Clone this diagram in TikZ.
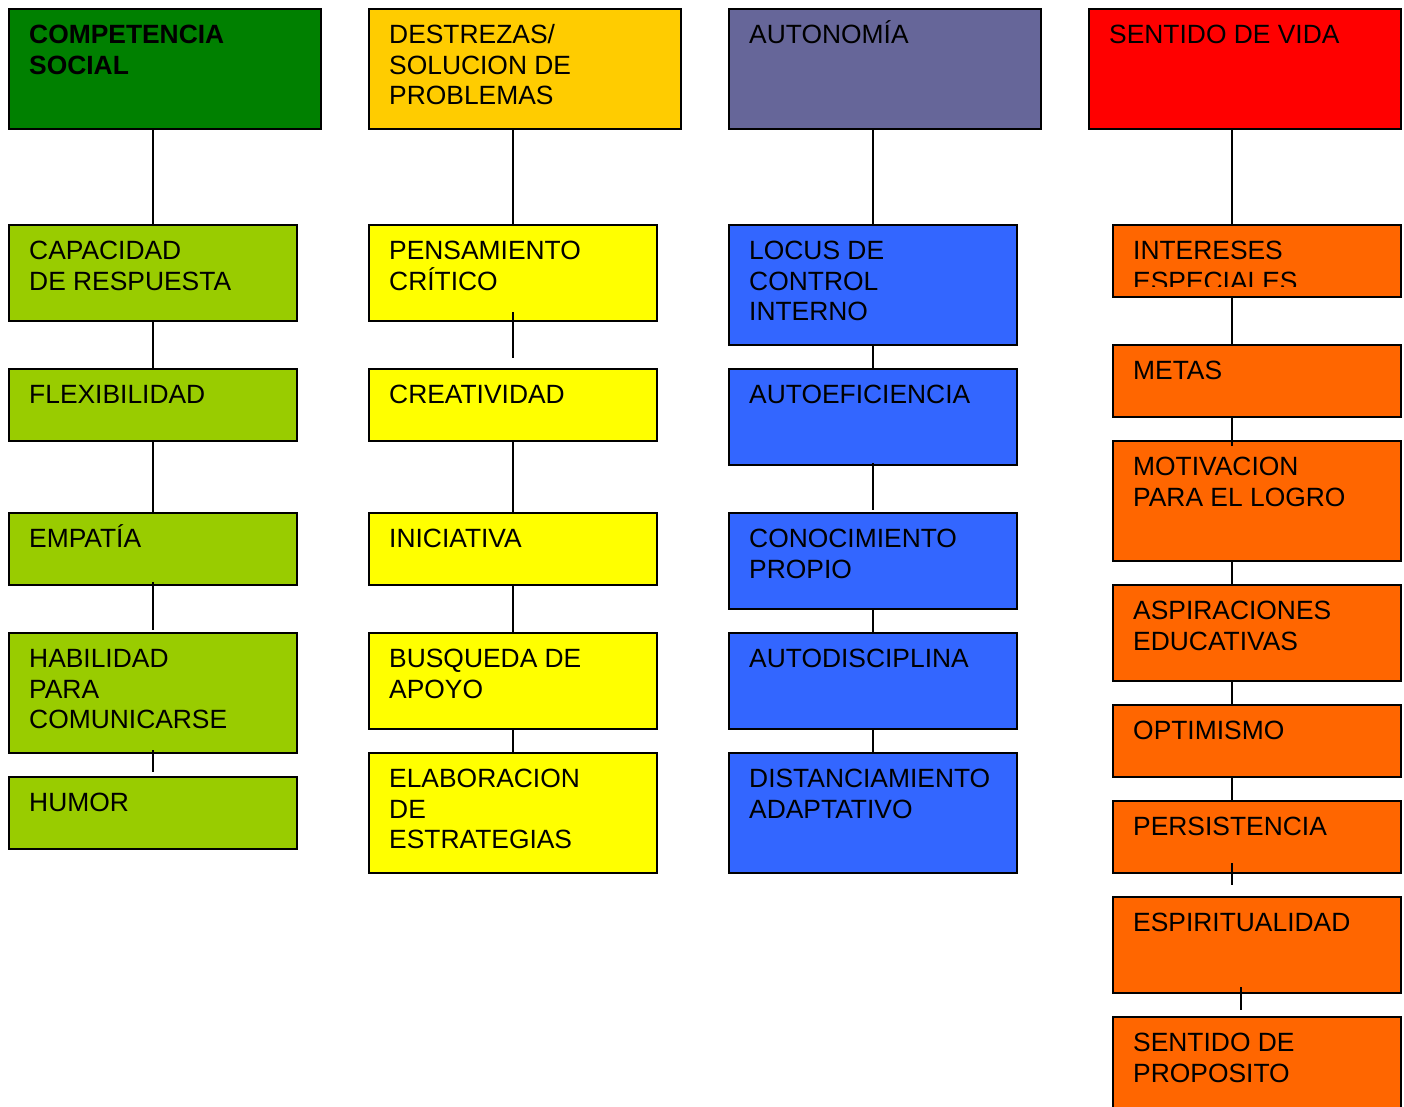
\documentclass[tikz,border=0pt]{standalone}
\usepackage{fontspec}
\setmainfont{Liberation Sans}
\definecolor{cgreen}{RGB}{0,128,0}
\definecolor{clime}{RGB}{153,204,0}
\definecolor{cgold}{RGB}{255,204,0}
\definecolor{cyel}{RGB}{255,255,0}
\definecolor{cpurp}{RGB}{102,102,153}
\definecolor{cblue}{RGB}{51,102,255}
\definecolor{cred}{RGB}{255,0,0}
\definecolor{corange}{RGB}{255,102,0}
\tikzset{
  box/.style={draw=black, line width=2pt, rectangle, inner sep=0pt, anchor=north west},
  txt/.style={inner sep=0pt, anchor=north west, align=left, font=\fontsize{26.4}{30.5}\selectfont},
  conn/.style={draw=black, line width=2pt}
}
\newcommand{\bx}[7]{% name, x, y, w, h, color, text
  \node[box, fill=#6, minimum width=#4pt, minimum height=#5pt] (#1) at (#2,#3) {};
  \node[txt] (#1t) at ([xshift=21pt,yshift=-11.5pt]#1.north west) {\rule{0pt}{24pt}#7};
}
\begin{document}
\begin{tikzpicture}[x=1pt,y=-1pt]
\useasboundingbox (0,0) rectangle (1404,1107);
\clip (0,0) rectangle (1404,1107);
% column 1
\bx{cs}{8}{8}{312}{120}{cgreen}{\bfseries COMPETENCIA\\\bfseries SOCIAL}
\bx{ca}{8}{224}{288}{96}{clime}{CAPACIDAD\\DE RESPUESTA}
\bx{cb}{8}{368}{288}{72}{clime}{FLEXIBILIDAD}
\bx{cc}{8}{512}{288}{72}{clime}{EMPATÍA}
\bx{cd}{8}{632}{288}{120}{clime}{HABILIDAD\\PARA\\COMUNICARSE}
\bx{ce}{8}{776}{288}{72}{clime}{HUMOR}
% column 2
\bx{ds}{368}{8}{312}{120}{cgold}{DESTREZAS/\\SOLUCION DE\\PROBLEMAS}
\bx{da}{368}{224}{288}{96}{cyel}{PENSAMIENTO\\CRÍTICO}
\bx{db}{368}{368}{288}{72}{cyel}{CREATIVIDAD}
\bx{dc}{368}{512}{288}{72}{cyel}{INICIATIVA}
\bx{dd}{368}{632}{288}{96}{cyel}{BUSQUEDA DE\\APOYO}
\bx{de}{368}{752}{288}{120}{cyel}{ELABORACION\\DE\\ESTRATEGIAS}
% column 3
\bx{as}{728}{8}{312}{120}{cpurp}{AUTONOMÍA}
\bx{aa}{728}{224}{288}{120}{cblue}{LOCUS DE\\CONTROL\\INTERNO}
\bx{ab}{728}{368}{288}{96}{cblue}{AUTOEFICIENCIA}
\bx{ac}{728}{512}{288}{96}{cblue}{CONOCIMIENTO\\PROPIO}
\bx{ad}{728}{632}{288}{96}{cblue}{AUTODISCIPLINA}
\bx{ae}{728}{752}{288}{120}{cblue}{DISTANCIAMIENTO\\ADAPTATIVO}
% column 4
\bx{ss}{1088}{8}{312}{120}{cred}{SENTIDO DE VIDA}
\node[box, fill=corange, minimum width=288pt, minimum height=72pt] (sa) at (1112,224) {};
\begin{scope}
  \clip (1113,225) rectangle (1399,286);
  \node[txt] (sat) at ([xshift=21pt,yshift=-11.5pt]sa.north west) {\rule{0pt}{24pt}INTERESES\\ESPECIALES};
\end{scope}
\bx{sb}{1112}{344}{288}{72}{corange}{METAS}
\bx{sc}{1112}{440}{288}{120}{corange}{MOTIVACION\\PARA EL LOGRO}
\bx{sd}{1112}{584}{288}{96}{corange}{ASPIRACIONES\\EDUCATIVAS}
\bx{se}{1112}{704}{288}{72}{corange}{OPTIMISMO}
\bx{sf}{1112}{800}{288}{72}{corange}{PERSISTENCIA}
\bx{sg}{1112}{896}{288}{96}{corange}{ESPIRITUALIDAD}
\bx{sh}{1112}{1016}{288}{120}{corange}{SENTIDO DE\\PROPOSITO}
\coordinate (sp4) at (1232,0);
\coordinate (sp5) at (1241,0);
% connectors column 1
\draw[conn] (cs.south -| ca.north) -- (ca.north);
\draw[conn] (ca.south) -- (cb.north);
\draw[conn] (cb.south) -- (cc.north);
\draw[conn] ([yshift=4pt]cc.south) -- ([yshift=2pt]cd.north);
\draw[conn] ([yshift=4pt]cd.south) -- ([yshift=4pt]ce.north);
% connectors column 2
\draw[conn] (ds.south -| da.north) -- (da.north);
\draw[conn] ([yshift=10pt]da.south) -- ([yshift=10pt]db.north);
\draw[conn] (db.south) -- (dc.north);
\draw[conn] (dc.south) -- (dd.north);
\draw[conn] (dd.south) -- (de.north);
% connectors column 3
\draw[conn] (as.south -| aa.north) -- (aa.north);
\draw[conn] (aa.south) -- (ab.north);
\draw[conn] ([yshift=3pt]ab.south) -- ([yshift=2pt]ac.north);
\draw[conn] (ac.south) -- (ad.north);
\draw[conn] (ad.south) -- (ae.north);
% connectors column 4
\draw[conn] (ss.south -| sp4) -- (sa.north -| sp4);
\draw[conn] (sa.south -| sp4) -- (sb.north -| sp4);
\draw[conn] (sb.south -| sp4) -- ([yshift=-6pt]sc.north -| sp4);
\draw[conn] (sc.south -| sp4) -- (sd.north -| sp4);
\draw[conn] (sd.south -| sp4) -- (se.north -| sp4);
\draw[conn] (se.south -| sp4) -- (sf.north -| sp4);
\draw[conn] ([yshift=11pt]sf.south -| sp4) -- ([yshift=11pt]sg.north -| sp4);
\draw[conn] ([yshift=7pt]sg.south -| sp5) -- ([yshift=6pt]sh.north -| sp5);
\end{tikzpicture}
\end{document}
